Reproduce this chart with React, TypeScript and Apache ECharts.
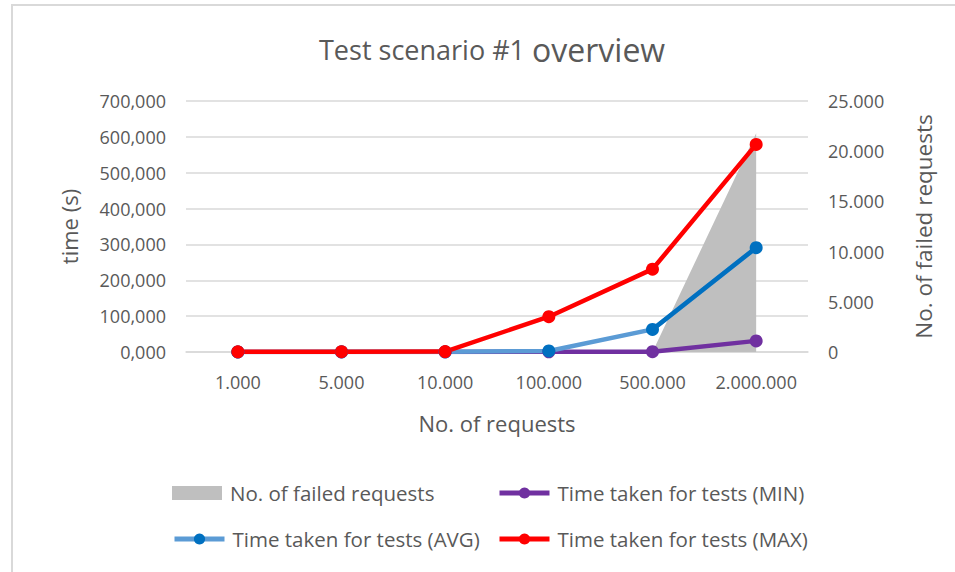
import React, { useEffect, useRef } from "react";
import * as echarts from "echarts";

const categories = ["1.000", "5.000", "10.000", "100.000", "500.000", "2.000.000"];
const failedRequests = [0, 0, 0, 0, 0, 21800];
const minTime = [0.1, 0.2, 0.3, 0.5, 1, 31];
const avgTime = [0.2, 0.4, 0.6, 3, 63, 291];
const maxTime = [0.5, 0.8, 1.2, 98.5, 231, 579];
const leftTicks = { min: 0, max: 700, interval: 100 };
const rightTicks = { min: 0, max: 25000, interval: 5000 };

const FONT = "Open Sans";
const TXT = "#595959";

export default function App() {
  const ref = useRef<HTMLDivElement>(null);
  useEffect(() => {
    if (!ref.current) return;
    const chart = echarts.init(ref.current, null, { renderer: "svg" });
    const avgTail = avgTime.map((v, i) => (i >= 4 ? v : null));
    const legendBase = {
      itemWidth: 50,
      itemHeight: 14,
      itemGap: 6,
      padding: 0,
      lineStyle: { width: 5 },
      textStyle: { fontFamily: FONT, fontSize: 20.5, lineHeight: 22, color: TXT, padding: [0, 0, 0, 3] },
    };
    chart.setOption({
      animation: false,
      backgroundColor: "#fff",
      textStyle: { fontFamily: FONT },
      title: {
        text: "{a|Test scenario #1 }{b|overview}",
        left: 314,
        top: 28,
        textStyle: {
          fontWeight: "normal",
          rich: {
            a: { fontFamily: FONT, fontSize: 27, color: TXT, fontWeight: "normal" },
            b: { fontFamily: FONT, fontSize: 32, color: TXT, fontWeight: "normal" },
          },
        },
      },
      graphic: [
        {
          type: "rect",
          shape: { x: 12, y: 5, width: 1000, height: 700 },
          style: { fill: "none", stroke: "#D9D9D9", lineWidth: 2 },
          silent: true,
        },
      ],
      grid: { left: 186, right: 147, top: 101, bottom: 220 },
      legend: [
        { ...legendBase, left: 172, top: 482, data: [{ name: "No. of failed requests", icon: "rect" }] },
        { ...legendBase, left: 497, top: 482, data: ["Time taken for tests (MIN)"] },
        { ...legendBase, left: 172, top: 528, data: ["Time taken for tests (AVG)"] },
        { ...legendBase, left: 497, top: 528, data: ["Time taken for tests (MAX)"] },
      ],
      xAxis: {
        type: "category",
        data: categories,
        boundaryGap: true,
        axisLine: { show: true, lineStyle: { color: "#D9D9D9", width: 1.5 } },
        axisTick: { show: false },
        axisLabel: { interval: 0, hideOverlap: false, margin: 21, fontFamily: FONT, fontSize: 18, color: TXT },
        name: "No. of requests",
        nameLocation: "middle",
        nameGap: 60,
        nameTextStyle: { fontFamily: FONT, fontSize: 22, color: TXT },
      },
      yAxis: [
        {
          type: "value",
          ...leftTicks,
          position: "left",
          axisLine: { show: false },
          axisTick: { show: false },
          splitLine: { lineStyle: { color: "#D9D9D9", width: 1.5 } },
          axisLabel: {
            margin: 20,
            fontFamily: FONT,
            fontSize: 18,
            color: TXT,
            formatter: (v: number) => v.toFixed(3).replace(".", ","),
          },
          name: "time (s)",
          nameLocation: "middle",
          nameGap: 106,
          nameTextStyle: { fontFamily: FONT, fontSize: 22, color: TXT },
        },
        {
          type: "value",
          ...rightTicks,
          position: "right",
          axisLine: { show: false },
          axisTick: { show: false },
          splitLine: { show: false },
          axisLabel: {
            margin: 20,
            fontFamily: FONT,
            fontSize: 18,
            color: TXT,
            formatter: (v: number) => (v === 0 ? "0" : v.toLocaleString("de-DE")),
          },
          name: "No. of failed requests",
          nameLocation: "middle",
          nameGap: 104,
          nameTextStyle: { fontFamily: FONT, fontSize: 22.5, color: TXT },
        },
      ],
      series: [
        {
          name: "No. of failed requests",
          type: "line",
          yAxisIndex: 1,
          data: failedRequests,
          symbol: "none",
          lineStyle: { width: 0, color: "#BFBFBF" },
          itemStyle: { color: "#BFBFBF" },
          areaStyle: { color: "#BFBFBF", opacity: 1 },
        },
        {
          name: "Time taken for tests (MIN)",
          type: "line",
          data: minTime,
          symbol: "circle",
          symbolSize: 13,
          lineStyle: { width: 4.5, color: "#7030A0" },
          itemStyle: { color: "#7030A0" },
        },
        {
          name: "Time taken for tests (AVG)",
          type: "line",
          data: avgTime,
          symbol: "circle",
          symbolSize: 13,
          lineStyle: { width: 4.5, color: "#5B9BD5" },
          itemStyle: { color: "#0070C0" },
        },
        {
          name: "avg-tail",
          type: "line",
          data: avgTail,
          symbol: "none",
          lineStyle: { width: 4.5, color: "#0070C0" },
          itemStyle: { color: "#0070C0" },
          silent: true,
        },
        {
          name: "Time taken for tests (MAX)",
          type: "line",
          data: maxTime,
          symbol: "circle",
          symbolSize: 13,
          lineStyle: { width: 4.5, color: "#FF0000" },
          itemStyle: { color: "#FF0000" },
        },
      ],
    });
    return () => chart.dispose();
  }, []);
  return (
    <div
      ref={ref}
      style={{ position: "fixed", left: 0, top: 0, width: 955, height: 572 }}
    />
  );
}
